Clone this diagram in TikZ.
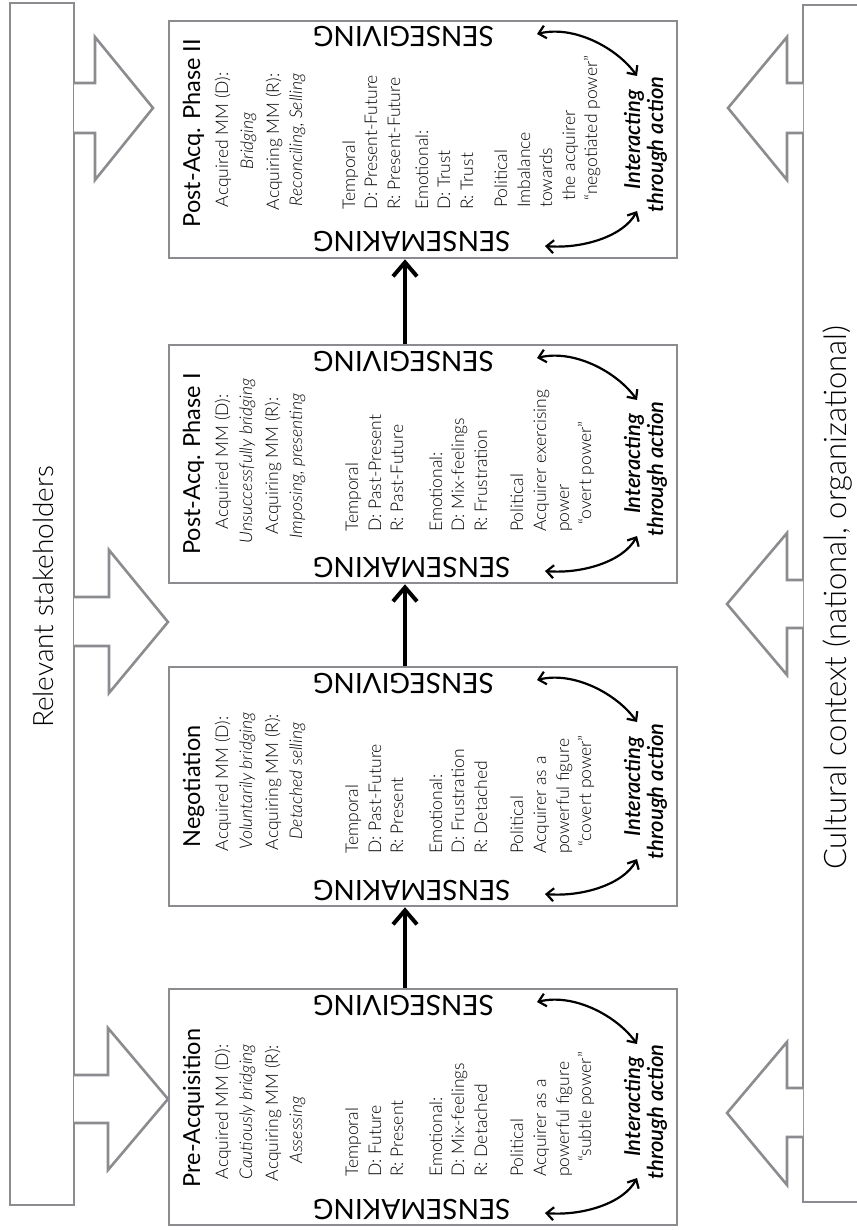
\documentclass[tikz,border=0pt]{standalone}
\usepackage{fontspec}
\usetikzlibrary{arrows.meta}

% Light face for running text, regular face for headings
\IfFontExistsTF{Lato Light}{%
  \IfFontExistsTF{Lato Light Italic}%
    {\setmainfont{Lato Light}[ItalicFont={Lato Light Italic}]}%
    {\setmainfont{Lato Light}}%
}{\setmainfont{Lato}}
\newfontfamily\capsfont{Lato}
\IfFontExistsTF{Lato Semibold Italic}%
  {\newfontfamily\actfont{Lato Semibold Italic}}%
  {\newcommand\actfont{\capsfont\bfseries\itshape}}

\definecolor{framegray}{HTML}{8A8C8F}

% SENSEGIVING / SENSEMAKING labels, the two curved arrows and the
% "Interacting through action" label of one phase box
% #1 id, #2 top edge, #3 bottom edge
\newcommand\senseloop[3]{%
  \node[senselabel, anchor=base east] (sg#1) at (313,{#2+6}) {SENSEGIVING};
  \node[senselabel, anchor=base east] (sm#1) at (313,{#3-26}) {SENSEMAKING};
  \node[actlabel, anchor=base] (ia#1) at (640,{(#2+#3)/2}) {Interacting};
  \node[actlabel, anchor=base] (ta#1) at (663,{(#2+#3)/2+5}) {through action};
  \coordinate (ga#1) at (537,{#2+13});
  \coordinate (gb#1) at (637,{#2+55});
  \coordinate (ma#1) at (637,{#3-47});
  \coordinate (mb#1) at (545,{#3-12});
  \draw[cyclearrow] (ga#1) .. controls +(37,-9) and +(-20,-28) .. (gb#1);
  \draw[cyclearrow] (ma#1) .. controls +(-14,26) and +(36,3) .. (mb#1);
}

\begin{document}
\begin{tikzpicture}[x=1pt,y=-1pt,
  frame/.style={draw=framegray, line width=2.6pt},
  sidebox/.style={frame, minimum width=64pt, inner sep=0pt},
  phasebox/.style={frame, minimum width=508pt, inner sep=0pt},
  blockarrow/.style={frame, fill=white, line join=miter},
  flowarrow/.style={line width=4pt, arrows={-Straight Barb[length=14pt,width=24pt]}},
  cyclearrow/.style={line width=2.2pt, arrows={Straight Barb[length=7pt,width=13pt]-Straight Barb[length=7pt,width=13pt]}},
  vtxt/.style={rotate=90, inner sep=0pt},
  sidelabel/.style={vtxt, font=\fontsize{28}{30}\selectfont},
  titlelabel/.style={vtxt, font=\capsfont\fontsize{23.5}{26}\selectfont},
  body/.style={vtxt, font=\fontsize{17.5}{20}\selectfont},
  bodyit/.style={vtxt, font=\fontsize{17.5}{20}\selectfont\itshape},
  actlabel/.style={vtxt, font=\actfont\fontsize{22}{24}\selectfont},
  senselabel/.style={rotate=180, inner sep=0pt, font=\capsfont\fontsize{28}{30}\selectfont},
]
\useasboundingbox (0,0) rectangle (856,1230);

% context frames
\node[sidebox, minimum height=1202pt] (rs) at (42,604) {};
\node[sidebox, minimum height=1197pt] (cc) at (835,603.5) {};
\node[sidelabel, anchor=base] (rstxt) at (53,597) {Relevant stakeholders};
\node[sidelabel, font=\fontsize{31}{33}\selectfont, anchor=base west] (cctxt) at (846,870) {Cultural context (national, organizational)};

% block arrows from the stakeholders frame
\draw[blockarrow] (74,83) -- (95,83) -- (95,37) -- (153,108) -- (95,180) -- (95,133) -- (74,133);
\draw[blockarrow] (74,597) -- (109,597) -- (109,550) -- (168,622) -- (109,693) -- (109,646) -- (74,646);
\draw[blockarrow] (74,1075) -- (108,1075) -- (108,1028) -- (168,1099) -- (108,1170) -- (108,1123) -- (74,1123);
% block arrows from the cultural context frame
\draw[blockarrow] (803,83) -- (787,83) -- (787,37) -- (728,108) -- (787,180) -- (787,133) -- (803,133);
\draw[blockarrow] (803,580) -- (787,580) -- (787,533) -- (727,604) -- (787,675) -- (787,628) -- (803,628);
\draw[blockarrow] (803,1088) -- (787,1088) -- (787,1042) -- (727,1113) -- (787,1185) -- (787,1137) -- (803,1137);

% phase boxes
\node[phasebox, minimum height=236pt] (b1) at (423,1107) {};
\node[phasebox, minimum height=239pt] (b2) at (423,786.5) {};
\node[phasebox, minimum height=238pt] (b3) at (423,464) {};
\node[phasebox, minimum height=237pt] (b4) at (423,139.5) {};

% flow between phases
\coordinate (ax) at (405,0);
\draw[flowarrow] (b1.north -| ax) -- (b2.south -| ax);
\draw[flowarrow] (b2.north -| ax) -- (b3.south -| ax);
\draw[flowarrow] (b3.north -| ax) -- (b4.south -| ax);

% ---- Pre-Acquisition
\node[titlelabel, anchor=base] (t1) at (200,1108) {Pre-Acquisition};
\node[body, anchor=base] (t1a) at (228,1112) {Acquired MM (D):};
\node[bodyit, anchor=base] (t1b) at (252,1112) {Cautiously bridging};
\node[body, anchor=base] (t1c) at (278,1113) {Acquiring MM (R):};
\node[bodyit, anchor=base] (t1d) at (302,1130) {Assessing};
\node[body, anchor=base west] (p1t1) at (358,1177) {Temporal};
\node[body, anchor=base west] (p1t2) at (381,1177) {D: Future};
\node[body, anchor=base west] (p1t3) at (403,1177) {R: Present};
\node[body, anchor=base west] (p1e1) at (442,1177) {Emotional:};
\node[body, anchor=base west] (p1e2) at (464,1177) {D: Mix-feelings};
\node[body, anchor=base west] (p1e3) at (487,1177) {R: Detached};
\node[body, anchor=base west] (p1p1) at (523,1177) {Political};
\node[body, anchor=base west] (p1p2) at (546,1177) {Acquirer as a};
\node[body, anchor=base west] (p1p3) at (569,1177) {powerful figure};
\node[body, anchor=base west] (p1p4) at (591,1162) {“subtle power”};
\senseloop{1}{989}{1225}

% ---- Negotiation
\node[titlelabel, anchor=base] (t2) at (200,786.5) {Negotiation};
\node[body, anchor=base] (t2a) at (228,784) {Acquired MM (D):};
\node[bodyit, anchor=base] (t2b) at (252,781) {Voluntarily bridging};
\node[body, anchor=base] (t2c) at (278,782) {Acquiring MM (R):};
\node[bodyit, anchor=base] (t2d) at (302,781) {Detached selling};
\node[body, anchor=base west] (p2t1) at (358,854) {Temporal};
\node[body, anchor=base west] (p2t2) at (381,854) {D: Past-Future};
\node[body, anchor=base west] (p2t3) at (403,854) {R: Present};
\node[body, anchor=base west] (p2e1) at (442,854) {Emotional:};
\node[body, anchor=base west] (p2e2) at (464,854) {D: Frustration};
\node[body, anchor=base west] (p2e3) at (487,854) {R: Detached};
\node[body, anchor=base west] (p2p1) at (523,854) {Political};
\node[body, anchor=base west] (p2p2) at (546,854) {Acquirer as a};
\node[body, anchor=base west] (p2p3) at (569,854) {powerful figure};
\node[body, anchor=base west] (p2p4) at (591,847) {“covert power”};
\senseloop{2}{667}{906}

% ---- Post-Acq. Phase I
\node[titlelabel, anchor=base] (t3) at (200,464) {Post-Acq. Phase I};
\node[body, anchor=base] (t3a) at (228,462) {Acquired MM (D):};
\node[bodyit, anchor=base] (t3b) at (252,461) {Unsuccessfully bridging};
\node[body, anchor=base] (t3c) at (278,466) {Acquiring MM (R):};
\node[bodyit, anchor=base] (t3d) at (302,466) {Imposing, presenting};
\node[body, anchor=base west] (p3t1) at (358,532) {Temporal};
\node[body, anchor=base west] (p3t2) at (381,532) {D: Past-Present};
\node[body, anchor=base west] (p3t3) at (403,532) {R: Past-Future};
\node[body, anchor=base west] (p3e1) at (442,532) {Emotional:};
\node[body, anchor=base west] (p3e2) at (464,532) {D: Mix-feelings};
\node[body, anchor=base west] (p3e3) at (487,532) {R: Frustration};
\node[body, anchor=base west] (p3p1) at (523,532) {Political};
\node[body, anchor=base west] (p3p2) at (546,532) {Acquirer exercising};
\node[body, anchor=base west] (p3p3) at (569,532) {power};
\node[body, anchor=base west] (p3p4) at (591,525) {“overt power”};
\senseloop{3}{345}{583}

% ---- Post-Acq. Phase II
\node[titlelabel, anchor=base] (t4) at (200,133) {Post-Acq. Phase II};
\node[body, anchor=base] (t4a) at (228,140) {Acquired MM (D):};
\node[bodyit, anchor=base] (t4b) at (253,141) {Bridging};
\node[body, anchor=base] (t4c) at (279,142) {Acquiring MM (R):};
\node[bodyit, anchor=base] (t4d) at (302,140) {Reconciling, Selling};
\node[body, anchor=base west] (p4t1) at (355,210) {Temporal};
\node[body, anchor=base west] (p4t2) at (377,210) {D: Present-Future};
\node[body, anchor=base west] (p4t3) at (400,210) {R: Present-Future};
\node[body, anchor=base west] (p4e1) at (428,210) {Emotional:};
\node[body, anchor=base west] (p4e2) at (450,210) {D: Trust};
\node[body, anchor=base west] (p4e3) at (473,210) {R: Trust};
\node[body, anchor=base west] (p4p1) at (507,208) {Political};
\node[body, anchor=base west] (p4p2) at (530,208) {Imbalance};
\node[body, anchor=base west] (p4p3) at (552,208) {towards};
\node[body, anchor=base west] (p4p4) at (575,201) {the acquirer};
\node[body, anchor=base west] (p4p5) at (597,201) {“negotiated power”};
\senseloop{4}{21}{258}

\end{tikzpicture}
\end{document}
